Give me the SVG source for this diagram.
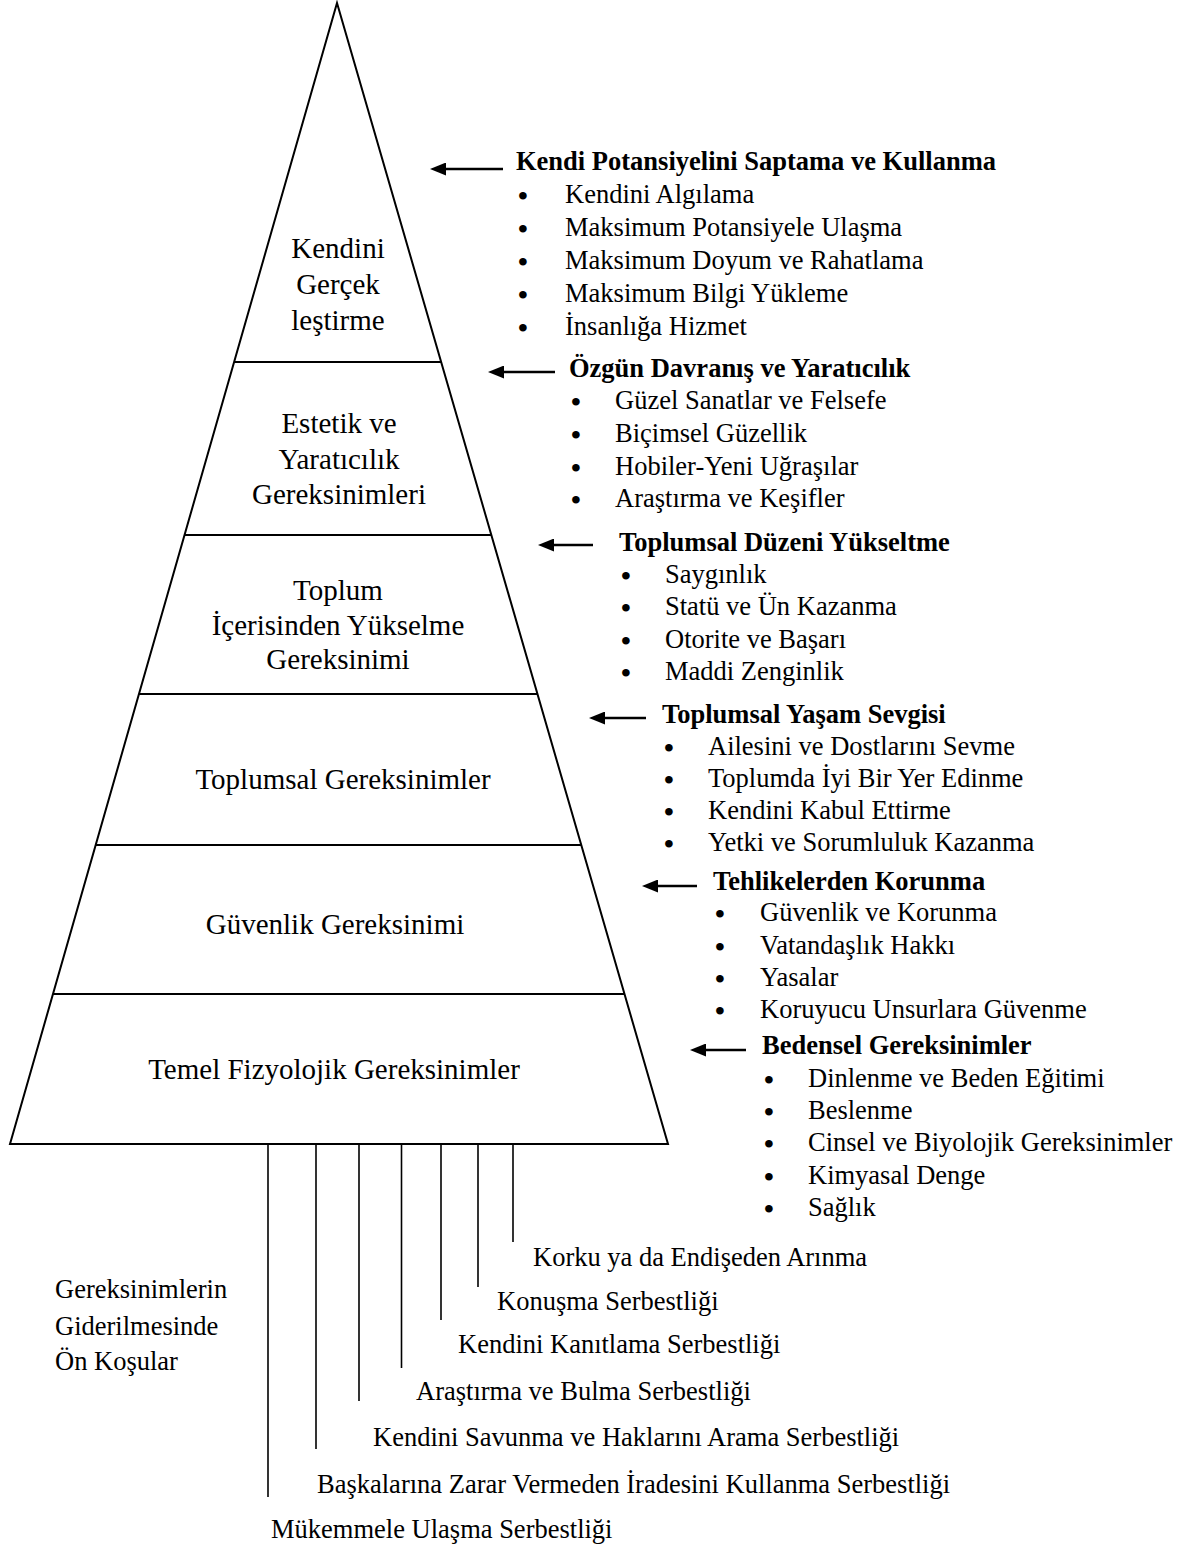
<svg xmlns="http://www.w3.org/2000/svg" width="1194" height="1546" viewBox="0 0 1194 1546">
<style>
text{font-family:"Liberation Serif","Times New Roman",serif;fill:#000}
.p{font-size:29px;text-anchor:middle}
.t{font-size:26.5px}
.d{font-size:28px;font-weight:bold}
.b{font-size:26.5px;font-weight:bold}
.shape{fill:none;stroke:#000;stroke-width:2}
.tier{stroke:#000;stroke-width:2}
.vl{stroke:#000;stroke-width:1.6}
.ar{stroke:#000;stroke-width:2.7}
</style>
<defs>
<marker id="ah" markerUnits="userSpaceOnUse" markerWidth="16" markerHeight="13" refX="6" refY="6.5" orient="auto" viewBox="0 0 16 13">
<path d="M16,6.5 L0,0 L0,13 Z" fill="#000"/>
</marker>
</defs>
<rect width="1194" height="1546" fill="#fff"/>
<g id="pyramid">
<polygon class="shape" points="337,3 10,1144 668,1144"/>
<line class="tier" x1="234" y1="362" x2="441" y2="362"/>
<line class="tier" x1="184.5" y1="535" x2="491.3" y2="535"/>
<line class="tier" x1="139" y1="694" x2="537.5" y2="694"/>
<line class="tier" x1="95.7" y1="845" x2="581.3" y2="845"/>
<line class="tier" x1="53" y1="994" x2="624.5" y2="994"/>
</g>
<g id="tier1"><text class="p" x="338" y="258">Kendini</text><text class="p" x="338" y="294">Gerçek</text><text class="p" x="338" y="330">leştirme</text></g>
<g id="tier2"><text class="p" x="339" y="433">Estetik ve</text><text class="p" x="339" y="469">Yaratıcılık</text><text class="p" x="339" y="504">Gereksinimleri</text></g>
<g id="tier3"><text class="p" x="338" y="600">Toplum</text><text class="p" x="338" y="635">İçerisinden Yükselme</text><text class="p" x="338" y="669">Gereksinimi</text></g>
<g id="tier4"><text class="p" x="343" y="789">Toplumsal Gereksinimler</text></g>
<g id="tier5"><text class="p" x="335" y="934">Güvenlik Gereksinimi</text></g>
<g id="tier6"><text class="p" x="334" y="1079">Temel Fizyolojik Gereksinimler</text></g>
<g id="connectors">
<line class="ar" x1="503" y1="169" x2="440" y2="169" marker-end="url(#ah)"/>
<line class="ar" x1="555" y1="372" x2="498" y2="372" marker-end="url(#ah)"/>
<line class="ar" x1="593" y1="545" x2="548" y2="545" marker-end="url(#ah)"/>
<line class="ar" x1="646" y1="718" x2="599" y2="718" marker-end="url(#ah)"/>
<line class="ar" x1="697" y1="886" x2="652" y2="886" marker-end="url(#ah)"/>
<line class="ar" x1="746" y1="1050" x2="700" y2="1050" marker-end="url(#ah)"/>
<line class="vl" x1="268" y1="1144" x2="268" y2="1497"/>
<line class="vl" x1="316" y1="1144" x2="316" y2="1449"/>
<line class="vl" x1="359" y1="1144" x2="359" y2="1401"/>
<line class="vl" x1="401.5" y1="1144" x2="401.5" y2="1368"/>
<line class="vl" x1="441" y1="1144" x2="441" y2="1320"/>
<line class="vl" x1="478" y1="1144" x2="478" y2="1287"/>
<line class="vl" x1="513" y1="1144" x2="513" y2="1242"/>
</g>
<g id="group1">
<text class="b" x="516" y="170">Kendi Potansiyelini Saptama ve Kullanma</text>
<text class="d" x="518" y="204.5">•</text><text class="t" x="565" y="203">Kendini Algılama</text>
<text class="d" x="518" y="237.5">•</text><text class="t" x="565" y="236">Maksimum Potansiyele Ulaşma</text>
<text class="d" x="518" y="270.5">•</text><text class="t" x="565" y="269">Maksimum Doyum ve Rahatlama</text>
<text class="d" x="518" y="303.5">•</text><text class="t" x="565" y="302">Maksimum Bilgi Yükleme</text>
<text class="d" x="518" y="336.5">•</text><text class="t" x="565" y="335">İnsanlığa Hizmet</text>
</g>
<g id="group2">
<text class="b" x="569" y="377">Özgün Davranış ve Yaratıcılık</text>
<text class="d" x="571" y="410.5">•</text><text class="t" x="615" y="409">Güzel Sanatlar ve Felsefe</text>
<text class="d" x="571" y="443.5">•</text><text class="t" x="615" y="442">Biçimsel Güzellik</text>
<text class="d" x="571" y="476.5">•</text><text class="t" x="615" y="475">Hobiler-Yeni Uğraşılar</text>
<text class="d" x="571" y="508.5">•</text><text class="t" x="615" y="507">Araştırma ve Keşifler</text>
</g>
<g id="group3">
<text class="b" x="619" y="551">Toplumsal Düzeni Yükseltme</text>
<text class="d" x="621" y="584.5">•</text><text class="t" x="665" y="583">Saygınlık</text>
<text class="d" x="621" y="616.5">•</text><text class="t" x="665" y="615">Statü ve Ün Kazanma</text>
<text class="d" x="621" y="649.5">•</text><text class="t" x="665" y="648">Otorite ve Başarı</text>
<text class="d" x="621" y="681.5">•</text><text class="t" x="665" y="680">Maddi Zenginlik</text>
</g>
<g id="group4">
<text class="b" x="662" y="723">Toplumsal Yaşam Sevgisi</text>
<text class="d" x="664" y="756.5">•</text><text class="t" x="708" y="755">Ailesini ve Dostlarını Sevme</text>
<text class="d" x="664" y="788.5">•</text><text class="t" x="708" y="787">Toplumda İyi Bir Yer Edinme</text>
<text class="d" x="664" y="820.5">•</text><text class="t" x="708" y="819">Kendini Kabul Ettirme</text>
<text class="d" x="664" y="852.5">•</text><text class="t" x="708" y="851">Yetki ve Sorumluluk Kazanma</text>
</g>
<g id="group5">
<text class="b" x="713" y="890">Tehlikelerden Korunma</text>
<text class="d" x="715" y="922.5">•</text><text class="t" x="760" y="921">Güvenlik ve Korunma</text>
<text class="d" x="715" y="955.5">•</text><text class="t" x="760" y="954">Vatandaşlık Hakkı</text>
<text class="d" x="715" y="987.5">•</text><text class="t" x="760" y="986">Yasalar</text>
<text class="d" x="715" y="1019.5">•</text><text class="t" x="760" y="1018">Koruyucu Unsurlara Güvenme</text>
</g>
<g id="group6">
<text class="b" x="762" y="1054">Bedensel Gereksinimler</text>
<text class="d" x="764" y="1088.5">•</text><text class="t" x="808" y="1087">Dinlenme ve Beden Eğitimi</text>
<text class="d" x="764" y="1120.5">•</text><text class="t" x="808" y="1119">Beslenme</text>
<text class="d" x="764" y="1152.5">•</text><text class="t" x="808" y="1151">Cinsel ve Biyolojik Gereksinimler</text>
<text class="d" x="764" y="1185.5">•</text><text class="t" x="808" y="1184">Kimyasal Denge</text>
<text class="d" x="764" y="1217.5">•</text><text class="t" x="808" y="1216">Sağlık</text>
</g>
<g id="preconditions">
<text class="t" x="55" y="1298">Gereksinimlerin</text>
<text class="t" x="55" y="1335">Giderilmesinde</text>
<text class="t" x="55" y="1370">Ön Koşular</text>
</g>
<g id="freedoms">
<text class="t" x="533" y="1266">Korku ya da Endişeden Arınma</text>
<text class="t" x="497" y="1310">Konuşma Serbestliği</text>
<text class="t" x="458" y="1353">Kendini Kanıtlama Serbestliği</text>
<text class="t" x="416" y="1400">Araştırma ve Bulma Serbestliği</text>
<text class="t" x="373" y="1446">Kendini Savunma ve Haklarını Arama Serbestliği</text>
<text class="t" x="317" y="1493">Başkalarına Zarar Vermeden İradesini Kullanma Serbestliği</text>
<text class="t" x="271" y="1538">Mükemmele Ulaşma Serbestliği</text>
</g>
</svg>
